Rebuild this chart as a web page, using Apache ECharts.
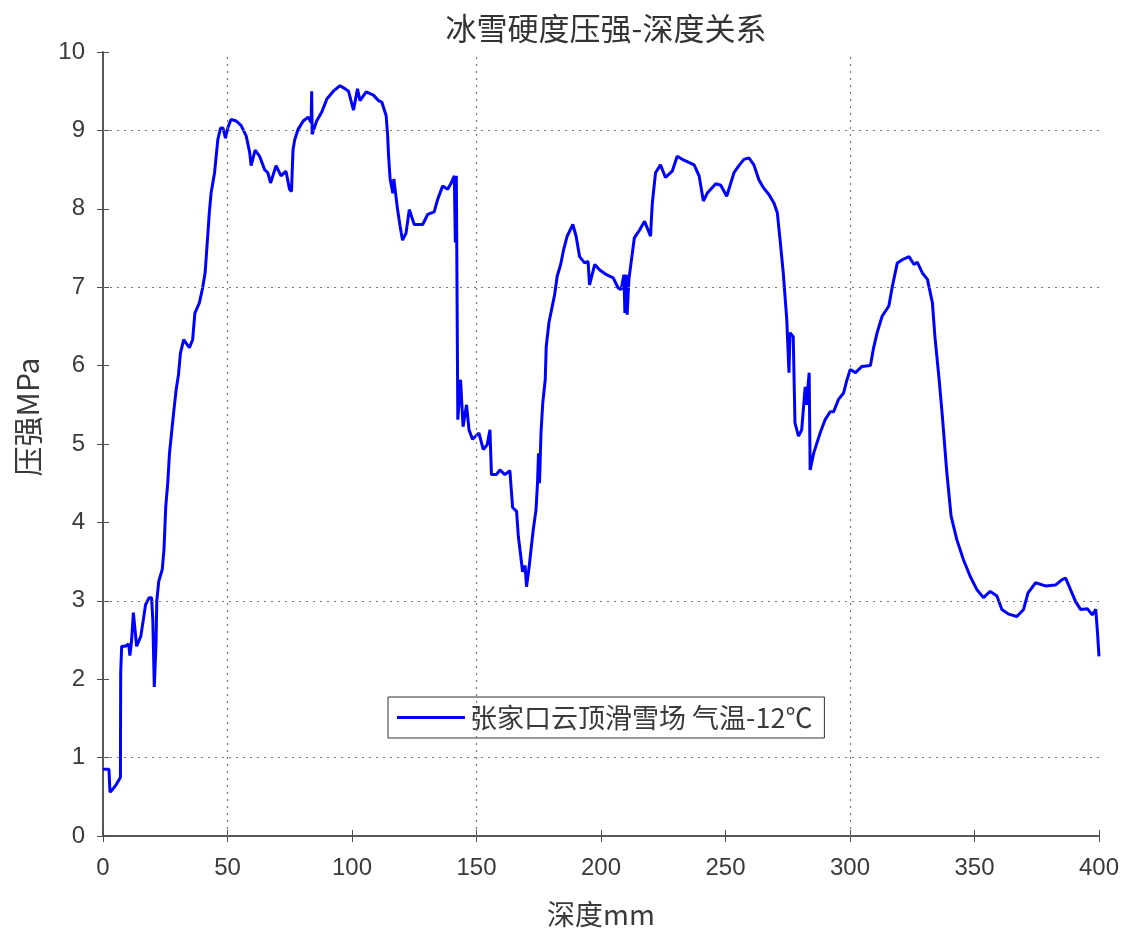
<!DOCTYPE html>
<html>
<head>
<meta charset="utf-8">
<script src="https://cdn.jsdelivr.net/npm/echarts@6/dist/echarts.min.js"></script>
<style>html,body{margin:0;padding:0;background:#fff}#c{width:1127px;height:933px}</style>
</head>
<body>
<div id="c"></div>
<script>
const titleText = '冰雪硬度压强-深度关系';
const xName = '深度mm';
const yName = '压强MPa';
const seriesName = '张家口云顶滑雪场 气温-12℃';
const gridX = [50, 150, 300];
const gridY = [1, 3, 7, 9];
const depth = [0,2.4,2.8,4,5.2,6.5,7.0,7.1,7.5,9,10.3,10.8,11.5,12.2,13.5,15.2,16.2,17.1,18.5,19.5,20,20.6,21.3,21.6,22.4,23.8,24.5,25.2,26,26.7,27.6,28.4,29.4,30.3,31.1,32.4,33.5,34.7,36,36.9,38.7,40,41,41.5,42.7,43.4,44.8,46.1,47.2,48.2,49.2,50.1,51.4,53.5,55.5,57.5,58.9,59.5,61.1,62.9,64.9,66.2,67.3,69.5,71.5,73.5,74.9,75.7,76.3,77,78.3,80.4,82.4,83.6,83.8,84,85.8,87.8,89.9,92.5,95.2,97.3,98.6,100.6,102.2,103.2,105.7,108.6,110.6,112,113.7,114.3,114.7,115.3,116.4,116.8,118.3,119.3,120.3,121.7,123,125,128.4,130.4,133,134.4,136.4,138.4,139.7,141.1,141.5,141.9,142.3,142.5,143.6,144.6,146,147,148.4,151,152.7,154.3,155.4,156,158,159.4,161.4,163.4,164.5,166.1,166.8,167.7,168.5,169.5,170.1,171.2,172.2,172.8,173.9,174.5,174.9,175.3,175.9,176.6,177.6,178,179.1,180,181.4,182.4,183.8,185,186.4,188.7,190,191.4,193.4,194.8,195.4,197.5,199.5,202.2,204.9,206.9,208.1,209.2,209.6,210.1,210.5,211.2,212.4,213.4,215.5,217.5,219.9,220.2,220.6,221.9,223.9,225.9,228.6,230.6,233.3,237.4,239.4,241.1,242.7,246.1,248.1,250.5,253.4,255.4,257.4,259.4,261.4,263.4,265.2,267.5,269.5,270.8,271.9,273.2,274.6,275.5,275.9,277.2,277.9,279.3,280.6,282,282.5,283.6,284,285.4,288,290,292,293.4,295.4,297.4,298.8,300.1,302.2,304.8,308.2,309.5,310.9,312.9,315.6,317,319,321,323.7,325.7,327,329.1,331.1,333.1,334.1,335.8,337.1,338.9,340.6,342.9,345.6,348.3,351,353.6,356.3,359,361,363.7,367,369.7,371.5,374.5,378.5,382.5,385.2,386.6,388.6,390.6,392.6,395.3,397.3,398.7,399.4,400];
const pressure = [0.85,0.85,0.56,0.6,0.65,0.72,0.75,2.08,2.42,2.42,2.45,2.3,2.5,2.85,2.42,2.55,2.76,2.95,3.04,3.04,2.76,1.9,2.46,3.0,3.25,3.4,3.66,4.2,4.5,4.88,5.16,5.41,5.7,5.88,6.16,6.33,6.28,6.23,6.33,6.67,6.8,6.99,7.18,7.4,7.95,8.2,8.46,8.88,9.03,9.03,8.9,9.03,9.14,9.12,9.06,8.93,8.72,8.55,8.75,8.67,8.5,8.46,8.33,8.55,8.42,8.48,8.25,8.22,8.75,8.88,9.01,9.12,9.17,9.1,9.5,8.95,9.12,9.23,9.4,9.5,9.57,9.53,9.5,9.26,9.53,9.38,9.49,9.45,9.38,9.36,9.19,8.94,8.67,8.38,8.2,8.38,7.99,7.78,7.6,7.69,7.99,7.8,7.8,7.93,7.96,8.12,8.29,8.25,8.32,8.42,7.57,8.42,8.4,5.31,5.82,5.22,5.5,5.18,5.06,5.14,4.93,4.99,5.18,4.61,4.61,4.67,4.61,4.66,4.19,4.14,3.82,3.59,3.37,3.45,3.18,3.45,3.74,3.91,4.16,4.5,4.88,4.5,5.14,5.52,5.82,6.24,6.55,6.69,6.91,7.14,7.29,7.48,7.65,7.8,7.65,7.39,7.31,7.33,7.03,7.29,7.22,7.16,7.12,6.99,6.97,7.16,6.67,7.16,6.65,7.1,7.39,7.63,7.73,7.84,7.65,7.84,8.07,8.46,8.56,8.4,8.48,8.67,8.62,8.56,8.42,8.1,8.2,8.32,8.3,8.16,8.46,8.55,8.63,8.65,8.56,8.37,8.27,8.18,8.07,7.95,7.61,7.18,6.59,5.91,6.42,6.37,5.27,5.1,5.18,5.73,5.5,5.91,4.67,4.88,5.14,5.31,5.41,5.41,5.57,5.65,5.82,5.95,5.91,5.99,6.0,6.23,6.42,6.63,6.76,7.01,7.31,7.35,7.39,7.29,7.32,7.18,7.1,6.8,6.37,5.82,5.35,4.63,4.08,3.78,3.52,3.31,3.14,3.04,3.12,3.06,2.89,2.83,2.8,2.89,3.1,3.23,3.19,3.2,3.27,3.29,3.14,2.99,2.89,2.9,2.82,2.89,2.59,2.29];

const data = depth.map((d, i) => [d, pressure[i]]);
const txt = '#3a3a3a';
const axisCol = '#4d4d4d';
const numFont = "'Liberation Sans', Arial, sans-serif";
const cjkFont = "'Noto Sans CJK SC', 'Liberation Sans', sans-serif";

const chart = echarts.init(document.getElementById('c'), null, {renderer: 'canvas'});
const axBase = () => ({
  axisLine: {show: true, lineStyle: {color: axisCol, width: 1.5}},
  axisTick: {show: true, inside: true, length: 6, lineStyle: {color: axisCol, width: 1}},
  splitLine: {show: false}
});
chart.setOption({
  animation: false,
  backgroundColor: '#fff',
  title: {
    text: titleText, left: 601, textAlign: 'center', top: 8,
    textStyle: {fontFamily: cjkFont, fontSize: 31, fontWeight: 'normal', color: '#333'}
  },
  legend: {
    data: [seriesName],
    left: 388, top: 697,
    orient: 'horizontal',
    padding: [7, 12, 7, 9],
    borderColor: '#333', borderWidth: 1,
    backgroundColor: '#fff',
    icon: 'rect', itemWidth: 68, itemHeight: 3,
    textStyle: {fontFamily: cjkFont, fontSize: 27, color: txt}
  },
  grid: {left: 103, right: 28, top: 52, bottom: 96, containLabel: false},
  xAxis: [
    Object.assign(axBase(), {
      type: 'value', min: 0, max: 400, interval: 50, position: 'bottom',
      name: xName, nameLocation: 'middle', nameGap: 64,
      nameTextStyle: {fontFamily: cjkFont, fontSize: 28, color: txt},
      axisLabel: {fontFamily: numFont, fontSize: 24, color: txt, margin: 20}
    }),
    Object.assign(axBase(), {
      type: 'value', min: 0, max: 400, interval: 50, position: 'top',
      axisLabel: {show: false}
    })
  ],
  yAxis: [
    Object.assign(axBase(), {
      type: 'value', min: 0, max: 10, interval: 1, position: 'left',
      name: yName, nameLocation: 'middle', nameGap: 60, nameRotate: 90,
      nameTextStyle: {fontFamily: cjkFont, fontSize: 30, color: txt, padding: [0, 0, 0, 54]},
      axisLabel: {fontFamily: numFont, fontSize: 24, color: txt, margin: 18}
    }),
    Object.assign(axBase(), {
      type: 'value', min: 0, max: 10, interval: 1, position: 'right',
      axisLabel: {show: false}
    })
  ],
  series: [
    {
      type: 'line', name: '_grid', data: [], silent: true, z: 1,
      markLine: {
        silent: true, symbol: 'none', animation: false,
        label: {show: false},
        lineStyle: {type: [2, 5], color: '#777', width: 1.2},
        data: gridX.map(v => ({xAxis: v})).concat(gridY.map(v => ({yAxis: v})))
      }
    },
    {
      type: 'line', name: seriesName, data: data, z: 3,
      showSymbol: false, symbol: 'none',
      lineStyle: {color: '#0000ff', width: 3},
      itemStyle: {color: '#0000ff'}
    }
  ]
});
</script>
</body>
</html>
